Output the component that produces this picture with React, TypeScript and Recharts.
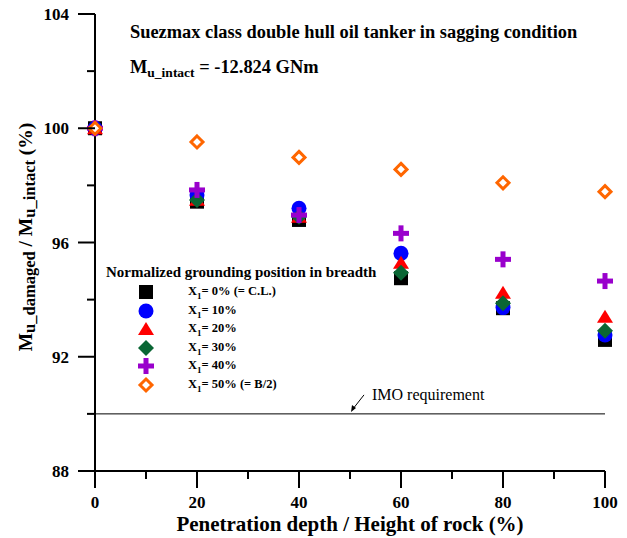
import { ScatterChart, Scatter, XAxis, YAxis, ReferenceLine, Legend } from 'recharts';

// Penetration depth / height of rock (%)
const depth = [0, 20, 40, 60, 80, 100];

// Mu_damaged / Mu_intact (%) for each grounding position X1
const x1At0 = [100, 97.43, 96.79, 94.75, 93.7, 92.59];
const x1At10 = [100, 97.66, 97.2, 95.62, 93.72, 92.76];
const x1At20 = [100, 97.5, 96.9, 95.29, 94.24, 93.4];
const x1At30 = [100, 97.49, 96.9, 94.94, 93.87, 92.91];
const x1At40 = [100, 97.84, 96.96, 96.32, 95.41, 94.65];
const x1At50 = [100, 99.52, 98.98, 98.56, 98.09, 97.78];

const xTicks = [0, 10, 20, 30, 40, 50, 60, 70, 80, 90, 100];
const yTicks = [88, 90, 92, 94, 96, 98, 100, 102, 104];
const imoRequirement = 90;

const serif = "'Liberation Serif', 'Times New Roman', serif";

const toPoints = (values: number[]) => depth.map((d, i) => ({ depth: d, ratio: values[i] }));

const Square = ({ cx, cy }: any) => <rect x={cx - 7} y={cy - 7} width={14} height={14} fill="#000" />;
const Dot = ({ cx, cy }: any) => <circle cx={cx} cy={cy} r={7.5} fill="#0000ff" />;
const Triangle = ({ cx, cy }: any) => (
  <polygon points={`${cx},${cy - 7} ${cx + 8},${cy + 6} ${cx - 8},${cy + 6}`} fill="#ff0000" />
);
const Diamond = ({ cx, cy }: any) => (
  <polygon points={`${cx},${cy - 8} ${cx + 8},${cy} ${cx},${cy + 8} ${cx - 8},${cy}`} fill="#0a6634" />
);
const Plus = ({ cx, cy }: any) => (
  <g fill="#9900cc">
    <rect x={cx - 8} y={cy - 2.5} width={16} height={5} />
    <rect x={cx - 2.5} y={cy - 8} width={5} height={16} />
  </g>
);
const OpenDiamond = ({ cx, cy }: any) => (
  <polygon
    points={`${cx},${cy - 6} ${cx + 6},${cy} ${cx},${cy + 6} ${cx - 6},${cy}`}
    fill="#fff"
    stroke="#ff6600"
    strokeWidth={3}
  />
);

const series = [
  { key: 'x0', label: '0% (= C.L.)', values: x1At0, shape: Square },
  { key: 'x10', label: '10%', values: x1At10, shape: Dot },
  { key: 'x20', label: '20%', values: x1At20, shape: Triangle },
  { key: 'x30', label: '30%', values: x1At30, shape: Diamond },
  { key: 'x40', label: '40%', values: x1At40, shape: Plus },
  { key: 'x50', label: '50% (= B/2)', values: x1At50, shape: OpenDiamond },
];

const XTick = ({ x, y, payload }: any) => {
  const major = payload.value % 20 === 0;
  return (
    <g>
      <line x1={x} y1={y} x2={x} y2={y + (major ? 17 : 8)} stroke="#000" strokeWidth={2} />
      {major && (
        <text x={x} y={y + 37} textAnchor="middle" fontFamily={serif} fontWeight="bold" fontSize={17} fill="#000">
          {payload.value}
        </text>
      )}
    </g>
  );
};

const YTick = ({ x, y, payload }: any) => {
  const major = payload.value % 4 === 0;
  return (
    <g>
      <line x1={x} y1={y} x2={x - (major ? 17 : 8)} y2={y} stroke="#000" strokeWidth={2} />
      {major && (
        <text x={x - 26} y={y + 6} textAnchor="end" fontFamily={serif} fontWeight="bold" fontSize={17} fill="#000">
          {payload.value}
        </text>
      )}
    </g>
  );
};

const Titles = () => (
  <g fontFamily={serif} fontWeight="bold" fill="#000">
    <text x={130} y={38} fontSize={18.4}>
      Suezmax class double hull oil tanker in sagging condition
    </text>
    <text x={130} y={73} fontSize={18.4}>
      M<tspan fontSize={13.5} dy={4}>u_intact</tspan>
      <tspan dy={-4}> = -12.824 GNm</tspan>
    </text>
    <text x={350} y={531} fontSize={21} textAnchor="middle">
      Penetration depth / Height of rock (%)
    </text>
    <text transform="translate(32, 237) rotate(-90)" fontSize={19.5} textAnchor="middle">
      M<tspan fontSize={16.5} dy={3}>u_damaged</tspan>
      <tspan dy={-3}> / M</tspan>
      <tspan fontSize={16.5} dy={3}>u_intact</tspan>
      <tspan dy={-3}> (%)</tspan>
    </text>
  </g>
);

const ImoLabel = ({ viewBox }: any) => {
  const tipX = viewBox.x + viewBox.width * 0.5 + 1;
  const tipY = viewBox.y - 2;
  return (
    <g>
      <line x1={tipX + 13} y1={tipY - 17} x2={tipX + 2} y2={tipY - 3} stroke="#000" strokeWidth={1} />
      <polygon points={`${tipX},${tipY} ${tipX + 1},${tipY - 7} ${tipX + 5},${tipY - 4}`} fill="#000" />
      <text x={tipX + 21} y={tipY - 12} fontFamily={serif} fontSize={16} fill="#000">
        IMO requirement
      </text>
    </g>
  );
};

const LegendBox = () => (
  <div style={{ fontFamily: serif, fontWeight: 'bold', color: '#000' }}>
    <div style={{ fontSize: 15, lineHeight: '16px', marginBottom: 3, whiteSpace: 'nowrap' }}>
      Normalized grounding position in breadth
    </div>
    {series.map((s) => {
      const Shape = s.shape;
      return (
        <div key={s.key} style={{ display: 'flex', alignItems: 'center', height: 18.5 }}>
          <svg width={60} height={18} style={{ flex: 'none' }}>
            <Shape cx={40} cy={9} />
          </svg>
          <span style={{ fontSize: 12.5, marginLeft: 22 }}>
            X<sub style={{ fontSize: 9 }}>1</sub>= {s.label}
          </span>
        </div>
      );
    })}
  </div>
);

export default function App() {
  return (
    <div style={{ position: 'absolute', left: 0, top: 0, background: '#fff' }}>
      <ScatterChart width={627} height={538} margin={{ top: 14, right: 22, bottom: 0, left: 0 }}>
        <XAxis
          type="number"
          dataKey="depth"
          domain={[0, 100]}
          ticks={xTicks}
          interval={0}
          height={67}
          tickSize={0}
          tickMargin={0}
          tickLine={false}
          axisLine={{ stroke: '#000', strokeWidth: 2 }}
          tick={<XTick />}
        />
        <YAxis
          type="number"
          dataKey="ratio"
          domain={[88, 104]}
          ticks={yTicks}
          interval={0}
          width={95}
          tickSize={0}
          tickMargin={0}
          tickLine={false}
          axisLine={{ stroke: '#000', strokeWidth: 2 }}
          tick={<YTick />}
          label={{ content: <Titles /> }}
        />
        <ReferenceLine y={imoRequirement} stroke="#000" strokeWidth={1} label={{ content: <ImoLabel /> }} />
        <Legend
          layout="vertical"
          align="center"
          verticalAlign="middle"
          content={() => <LegendBox />}
          wrapperStyle={{ position: 'absolute', left: 106, top: 264, width: 300 }}
        />
        {series.map((s) => (
          <Scatter
            key={s.key}
            name={s.key}
            data={toPoints(s.values)}
            shape={s.shape}
            isAnimationActive={false}
          />
        ))}
      </ScatterChart>
    </div>
  );
}
